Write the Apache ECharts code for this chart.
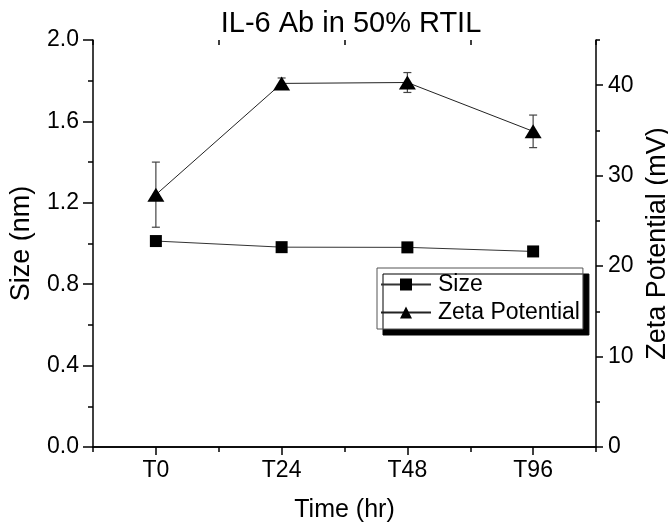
<!DOCTYPE html>
<html>
<head>
<meta charset="utf-8">
<script src="https://cdn.jsdelivr.net/npm/echarts@6/dist/echarts.min.js"></script>
<style>
  html, body { margin: 0; padding: 0; background: #fff; }
  #chart { width: 668px; height: 523px; }
</style>
</head>
<body>
<div id="chart"></div>
<script>
// data
var times = ["T0", "T24", "T48", "T96"];
var sizeVals = [1.012, 0.982, 0.981, 0.961];
var zetaVals = [27.9, 40.2, 40.3, 34.9];
var zetaErr = [3.6, 0.6, 1.1, 1.8];
var sizeTicks = [0, 0.4, 0.8, 1.2, 1.6, 2.0];
var zetaTicks = [0, 10, 20, 30, 40];

var FONT = "Liberation Sans";
var chart = echarts.init(document.getElementById("chart"));

var errData = zetaVals.map(function (v, i) {
  return [i, v - zetaErr[i], v + zetaErr[i]];
});

function xAx(pos, centered, len, inside, showLine) {
  return {
    type: "category",
    data: times,
    position: pos,
    boundaryGap: true,
    axisLine: { show: showLine, lineStyle: { color: "#000", width: 1.5 } },
    axisTick: { show: true, alignWithLabel: centered, length: len, inside: inside,
      lineStyle: { color: "#000", width: 1.5 } },
    axisLabel: { show: false },
    splitLine: { show: false }
  };
}

var xMain = xAx("bottom", true, 8, false, true);
xMain.axisLabel = { show: true, fontFamily: FONT, fontSize: 23, color: "#000", margin: 12 };
xMain.name = "Time (hr)";
xMain.nameLocation = "middle";
xMain.nameGap = 51;
xMain.nameTextStyle = { fontFamily: FONT, fontSize: 25, color: "#000" };

var option = {
  backgroundColor: "#fff",
  animation: false,
  title: {
    text: "IL-6 Ab in 50% RTIL",
    left: 346,
    top: 4,
    textAlign: "center",
    textStyle: { fontFamily: FONT, fontSize: 29, fontWeight: "normal", color: "#000" }
  },
  grid: { left: 93, right: 72, top: 40, bottom: 76, containLabel: false, outerBoundsMode: "none" },
  legend: {
    left: 377,
    top: 268,
    orient: "vertical",
    data: ["Size", "Zeta Potential"],
    backgroundColor: "#fff",
    borderColor: "#555",
    borderWidth: 1,
    borderRadius: 0,
    shadowColor: "#000",
    shadowBlur: 0,
    shadowOffsetX: 6,
    shadowOffsetY: 6,
    padding: [5, 3, 5, 3],
    itemWidth: 50,
    itemHeight: 15,
    itemGap: 5,
    textStyle: { fontFamily: FONT, fontSize: 23, color: "#000", padding: [0, 0, 0, 2] }
  },
  xAxis: [
    xMain,
    xAx("bottom", false, 5, false, false),
    xAx("top", true, 8, true, true),
    xAx("top", false, 5, true, false)
  ],
  yAxis: [
    {
      type: "value",
      position: "left",
      min: 0,
      max: 2,
      interval: 0.4,
      name: "Size (nm)",
      nameLocation: "middle",
      nameGap: 58,
      nameTextStyle: { fontFamily: FONT, fontSize: 27, color: "#000" },
      axisLine: { show: true, lineStyle: { color: "#000", width: 1.5 } },
      axisTick: { show: true, length: 10, lineStyle: { color: "#000", width: 1.5 } },
      minorTick: { show: true, splitNumber: 2, length: 5, lineStyle: { color: "#000", width: 1.5 } },
      axisLabel: { fontFamily: FONT, fontSize: 23, color: "#000", margin: 14,
        customValues: sizeTicks,
        formatter: function (v) { return v.toFixed(1); } },
      splitLine: { show: false }
    },
    {
      type: "value",
      position: "right",
      min: 0,
      max: 45,
      interval: 5,
      name: "Zeta Potential (mV)",
      nameLocation: "middle",
      nameGap: 44,
      nameRotate: 90,
      nameTextStyle: { fontFamily: FONT, fontSize: 27, color: "#000" },
      axisLine: { show: true, lineStyle: { color: "#000", width: 1.5 } },
      axisTick: { show: true, length: 7, customValues: zetaTicks, lineStyle: { color: "#000", width: 1.5 } },
      axisLabel: { fontFamily: FONT, fontSize: 23, color: "#000", margin: 12, customValues: zetaTicks },
      splitLine: { show: false }
    },
    {
      type: "value",
      position: "right",
      min: 0,
      max: 45,
      interval: 5,
      axisLine: { show: false },
      axisTick: { show: true, length: 4, lineStyle: { color: "#000", width: 1.5 } },
      axisLabel: { show: false },
      splitLine: { show: false }
    }
  ],
  series: [
    {
      type: "custom",
      xAxisIndex: 0,
      yAxisIndex: 1,
      data: errData,
      z: 1,
      renderItem: function (params, api) {
        var x = api.value(0);
        var lo = api.coord([x, api.value(1)]);
        var hi = api.coord([x, api.value(2)]);
        var w = 4;
        var st = { stroke: "#444", lineWidth: 1.2 };
        return {
          type: "group",
          children: [
            { type: "line", shape: { x1: lo[0], y1: lo[1], x2: hi[0], y2: hi[1] }, style: st },
            { type: "line", shape: { x1: lo[0] - w, y1: lo[1], x2: lo[0] + w, y2: lo[1] }, style: st },
            { type: "line", shape: { x1: hi[0] - w, y1: hi[1], x2: hi[0] + w, y2: hi[1] }, style: st }
          ]
        };
      }
    },
    {
      name: "Size",
      type: "line",
      xAxisIndex: 0,
      yAxisIndex: 0,
      data: sizeVals,
      symbol: "rect",
      symbolSize: 12,
      itemStyle: { color: "#000" },
      lineStyle: { color: "#333", width: 1 },
      z: 3
    },
    {
      name: "Zeta Potential",
      type: "line",
      xAxisIndex: 0,
      yAxisIndex: 1,
      data: zetaVals,
      symbol: "triangle",
      symbolSize: [17, 14],
      itemStyle: { color: "#000" },
      lineStyle: { color: "#222", width: 1 },
      z: 3
    }
  ]
};

chart.setOption(option);
</script>
</body>
</html>
